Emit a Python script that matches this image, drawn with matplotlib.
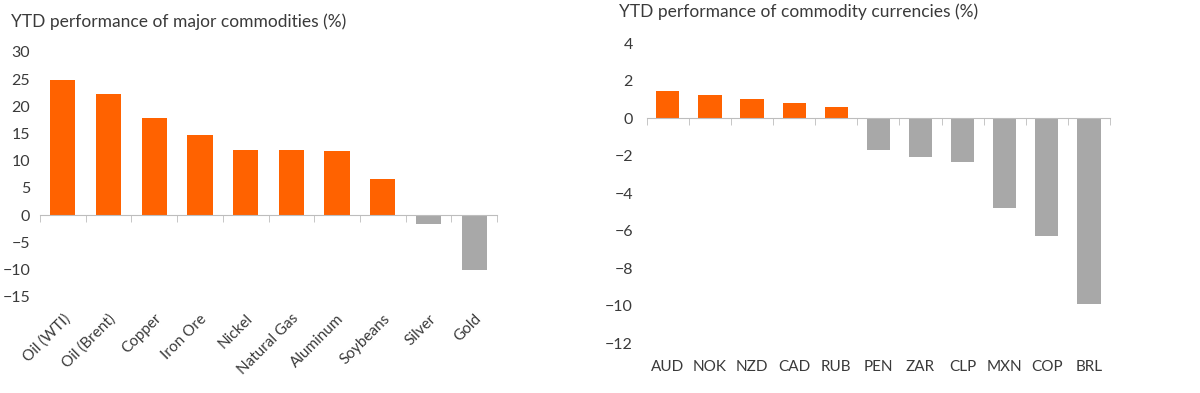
import numpy as np
import matplotlib
matplotlib.use("Agg")
import matplotlib.pyplot as plt

# data
commodities = ["Oil (WTI)", "Oil (Brent)", "Copper", "Iron Ore", "Nickel",
               "Natural Gas", "Aluminum", "Soybeans", "Silver", "Gold"]
commodity_ytd = [24.8, 22.2, 17.9, 14.8, 11.9, 11.9, 11.7, 6.6, -1.6, -10.1]
commodity_ticks = [30, 25, 20, 15, 10, 5, 0, -5, -10, -15]

currencies = ["AUD", "NOK", "NZD", "CAD", "RUB", "PEN", "ZAR", "CLP", "MXN", "COP", "BRL"]
currency_ytd = [1.45, 1.25, 1.05, 0.8, 0.62, -1.7, -2.05, -2.35, -4.77, -6.3, -9.92]
currency_ticks = [4, 2, 0, -2, -4, -6, -8, -10, -12]

ORANGE = "#FF6200"
GREY = "#A8A8A8"
TEXT = "#3A3A3A"
AXIS = "#BDBDBD"

plt.rcParams["font.family"] = ["Lato", "DejaVu Sans"]


def bar_panel(ax, labels, values, ticks, ylim, rotate, label_pad, ytick_pad):
    x = np.arange(len(labels))
    colors = [ORANGE if v >= 0 else GREY for v in values]
    ax.bar(x, values, width=0.55, color=colors, zorder=2)
    ax.set_xlim(-0.5, len(labels) - 0.5)
    ax.set_ylim(*ylim)

    for side in ["top", "right", "left"]:
        ax.spines[side].set_visible(False)
    # zero line with ticks between categories
    ax.spines["bottom"].set_position(("data", 0))
    ax.spines["bottom"].set_color(AXIS)
    ax.set_xticks(x)
    ax.set_xticks(np.arange(len(labels) + 1) - 0.5, minor=True)
    ax.tick_params(axis="x", which="major", length=0, labelbottom=False)
    ax.tick_params(axis="x", which="minor", length=5, color=AXIS, direction="out")

    ax.set_yticks(ticks)
    ax.tick_params(axis="y", length=0, pad=ytick_pad, labelsize=11.5, labelcolor=TEXT)

    # category labels sit under the plot area, not at the zero line
    sec = ax.secondary_xaxis("bottom")
    sec.set_xticks(x)
    sec.spines["bottom"].set_visible(False)
    if rotate:
        sec.set_xticklabels(labels, rotation=45, ha="right", va="top",
                            rotation_mode="anchor")
    else:
        sec.set_xticklabels(labels)
    sec.tick_params(length=0, pad=label_pad, labelsize=11, labelcolor=TEXT)


fig = plt.figure(figsize=(12, 3.93), dpi=100)

ax1 = fig.add_axes([0.0333, 0.2178, 0.3809, 0.6499])
bar_panel(ax1, commodities, commodity_ytd, commodity_ticks, (-17, 30),
          rotate=True, label_pad=3, ytick_pad=7)

ax2 = fig.add_axes([0.539, 0.0977, 0.386, 0.7923])
bar_panel(ax2, currencies, currency_ytd, currency_ticks, (-12.6, 4.0),
          rotate=False, label_pad=4, ytick_pad=10)

fig.text(11 / 1200, 1 - 22 / 393, "YTD performance of major commodities (%)",
         fontsize=12.5, color=TEXT, va="center", ha="left")
fig.text(619 / 1200, 1 - 12 / 393, "YTD performance of commodity currencies (%)",
         fontsize=12.5, color=TEXT, va="center", ha="left")

fig.savefig("out.png", dpi=100, facecolor="white")
